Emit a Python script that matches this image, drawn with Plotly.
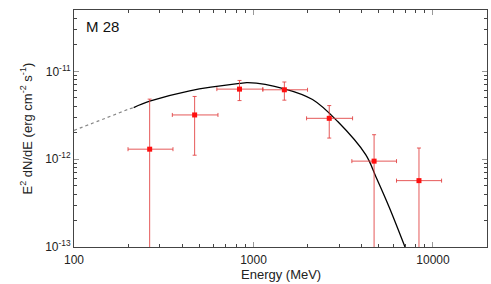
import numpy as np
import plotly.graph_objects as go

# Data points (energy in MeV, E^2 dN/dE in erg cm^-2 s^-1)
energy = [264, 470, 836, 1486, 2643, 4698, 8356]
e_lo = [200, 353, 625, 1128, 1976, 3532, 6264]
e_hi = [356, 634, 1127, 2000, 3566, 6266, 11170]
flux = [1.30e-12, 3.19e-12, 6.28e-12, 6.17e-12, 2.92e-12, 9.5e-13, 5.7e-13]
flux_hi = [4.83e-12, 5.18e-12, 7.88e-12, 7.57e-12, 4.08e-12, 1.90e-12, 1.34e-12]
flux_lo = [1e-15, 1.11e-12, 4.65e-12, 4.70e-12, 1.74e-12, 1e-15, 1e-15]

# Model curve: dotted extrapolation and solid fit range
curve_dot_e = [100, 150, 200, 215]
curve_dot_f = [2.13e-12, 2.93e-12, 3.69e-12, 3.87e-12]
curve_e = [215, 264, 441, 836, 929, 1486, 2133, 2938, 4227, 4808, 5697, 6986]
curve_f = [3.87e-12, 4.57e-12, 6.01e-12, 7.29e-12, 7.43e-12, 6.34e-12, 4.78e-12,
           2.70e-12, 1.12e-12, 6.32e-13, 2.86e-13, 1.0e-13]

x_tickvals = [100, 1000, 10000]
x_ticktext = ["100", "1000", "10000"]
y_tickvals = [1e-13, 1e-12, 1e-11]
y_ticktext = ["10<sup>-13</sup>", "10<sup>-12</sup>", "10<sup>-11</sup>"]

x_minor = [200, 300, 400, 500, 600, 700, 800, 900,
           2000, 3000, 4000, 5000, 6000, 7000, 8000, 9000]
y_minor = [m * 10.0 ** p for p in (-13, -12, -11) for m in range(2, 10) if m * 10.0 ** p < 5e-11]

FONT = "Liberation Sans, Arial, sans-serif"

e = np.array(energy)
f = np.array(flux)

fig = go.Figure()

fig.add_trace(go.Scatter(
    x=curve_dot_e, y=curve_dot_f, mode="lines", line_shape="spline",
    line=dict(color="#888888", width=1.2, dash="dot"), hoverinfo="skip"))
fig.add_trace(go.Scatter(
    x=curve_e, y=curve_f, mode="lines", line_shape="spline",
    line=dict(color="black", width=1.3), hoverinfo="skip"))

fig.add_trace(go.Scatter(
    x=energy, y=flux, mode="markers",
    marker=dict(symbol="square", size=5, color="#ff1010"),
    error_x=dict(type="data", symmetric=False,
                 array=list(np.array(e_hi) - e), arrayminus=list(e - np.array(e_lo)),
                 color="rgba(225,60,60,0.85)", thickness=1, width=2),
    error_y=dict(type="data", symmetric=False,
                 array=list(np.array(flux_hi) - f), arrayminus=list(f - np.array(flux_lo)),
                 color="rgba(225,60,60,0.85)", thickness=1, width=2),
))

axis_common = dict(
    showline=True, linecolor="#444444", linewidth=1, mirror="allticks",
    ticks="inside", ticklen=5, tickcolor="#999999", showgrid=False, zeroline=False,
    automargin=False,
    tickfont=dict(family=FONT, size=12, color="#222222"),
)

fig.update_xaxes(type="log", range=[2, np.log10(20000)],
                 tickvals=x_tickvals, ticktext=x_ticktext, ticklabelstandoff=2,
                 minor=dict(tickvals=x_minor, ticks="inside", ticklen=3, tickcolor="#444444"),
                 **axis_common)
fig.update_yaxes(type="log", range=[-13, np.log10(5e-11)],
                 tickvals=y_tickvals, ticktext=y_ticktext,
                 minor=dict(tickvals=y_minor, ticks="inside", ticklen=3, tickcolor="#444444"),
                 **axis_common)

fig.add_annotation(text="Energy (MeV)", x=0.5, y=0, xref="paper", yref="paper",
                   yshift=-27, yanchor="middle",
                   showarrow=False, font=dict(family=FONT, size=13, color="#222222"))
fig.add_annotation(text="E<sup>2</sup> dN/dE (erg cm<sup>-2</sup> s<sup>-1</sup>)",
                   x=0, y=0.5, xref="paper", yref="paper", xshift=-58, textangle=-90,
                   showarrow=False, font=dict(family=FONT, size=13, color="#222222"))

fig.add_annotation(text="M 28", x=0.025, y=0.93, xref="paper", yref="paper",
                   xanchor="left", yanchor="middle", showarrow=False,
                   font=dict(family=FONT, size=15, color="#111111"))

fig.update_layout(
    width=491, height=284,
    margin=dict(l=74, r=4, t=10, b=37),
    paper_bgcolor="white", plot_bgcolor="white",
    showlegend=False,
)

fig.write_html("out.html", config={"displayModeBar": False},
               post_script="document.body.style.margin='0';")
